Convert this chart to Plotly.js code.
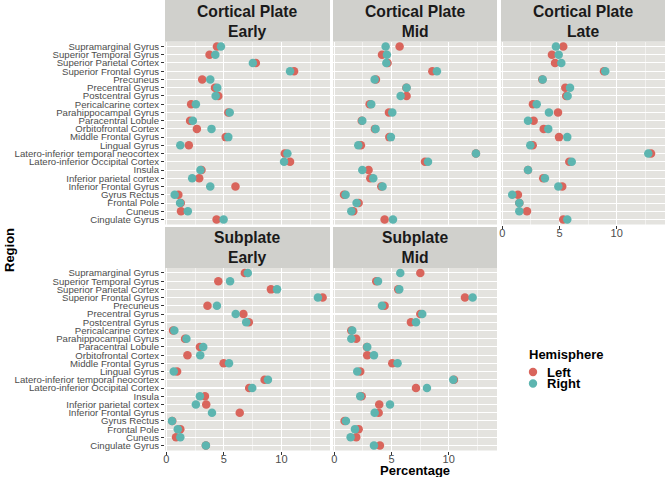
<!DOCTYPE html>
<html>
<head>
<meta charset="utf-8">
<script src="https://cdn.plot.ly/plotly-3.0.1.min.js"></script>
<style>
  body { margin: 0; background: white; }
  #chart { width: 666px; height: 477px; }
</style>
</head>
<body>
<div id="chart"></div>
<script>
// Regions, listed top to bottom as in the chart
var regions = ["Supramarginal Gyrus", "Superior Temporal Gyrus", "Superior Parietal Cortex",
  "Superior Frontal Gyrus", "Precuneus", "Precentral Gyrus", "Postcentral Gyrus",
  "Pericalcarine cortex", "Parahippocampal Gyrus", "Paracentral Lobule", "Orbitofrontal Cortex",
  "Middle Frontal Gyrus", "Lingual Gyrus", "Latero-inferior temporal neocortex",
  "Latero-inferior Occipital Cortex", "Insula", "Inferior parietal cortex", "Inferior Frontal Gyrus",
  "Gyrus Rectus", "Frontal Pole", "Cuneus", "Cingulate Gyrus"];

// Percentages per panel (Left / Right hemisphere)
var cpEarlyLeft  = [4.40, 3.76, 7.78, 11.10, 3.12, 4.23, 4.52, 2.16, 5.39, 2.07, 2.66, 5.16, 1.96, 10.29, 10.75, 3.06, 2.86, 6.01, 1.05, 1.26, 1.28, 4.37];
var cpEarlyRight = [4.75, 4.26, 7.52, 10.75, 3.82, 4.43, 4.29, 2.57, 5.51, 2.31, 3.93, 5.39, 1.22, 10.52, 10.23, 2.97, 2.25, 3.82, 0.73, 1.20, 1.87, 4.98];

var cpMidLeft  = [5.71, 4.17, 4.66, 8.57, 3.64, 6.30, 6.32, 3.09, 4.78, 2.40, 3.55, 4.81, 2.33, 12.38, 7.93, 3.00, 3.15, 4.11, 0.85, 2.13, 1.66, 4.40];
var cpMidRight = [4.49, 4.60, 4.55, 8.97, 3.53, 6.32, 5.80, 3.23, 5.07, 2.45, 3.61, 4.95, 2.10, 12.38, 8.19, 2.45, 3.41, 4.22, 0.99, 1.95, 1.49, 5.13];

var cpLateLeft  = [5.33, 4.34, 4.61, 8.89, 3.50, 5.51, 5.59, 2.68, 4.87, 2.74, 3.62, 4.96, 2.66, 13.00, 5.86, 2.25, 3.58, 5.24, 1.37, 1.49, 2.16, 5.33];
var cpLateRight = [4.69, 4.93, 5.16, 9.00, 3.53, 5.92, 5.71, 3.01, 4.08, 2.25, 4.02, 5.68, 2.45, 12.76, 6.07, 2.25, 3.73, 4.90, 0.87, 1.49, 1.49, 5.68];

var spEarlyLeft  = [6.82, 4.52, 9.09, 13.58, 3.58, 6.70, 7.17, 0.59, 1.63, 2.92, 1.84, 4.98, 0.94, 8.54, 7.20, 3.36, 3.47, 6.38, 0.52, 1.22, 0.85, 3.44];
var spEarlyRight = [7.08, 5.54, 9.62, 13.17, 4.40, 6.03, 6.94, 0.70, 1.75, 3.21, 2.95, 5.45, 0.65, 8.83, 7.47, 2.92, 2.57, 3.97, 0.50, 1.00, 1.22, 3.44];

var spMidLeft  = [7.52, 3.67, 5.59, 11.42, 4.40, 7.52, 6.70, 1.49, 1.92, 2.85, 2.88, 5.07, 2.27, 10.46, 7.14, 2.39, 3.93, 3.88, 0.90, 2.13, 1.92, 3.99];
var spMidRight = [5.77, 3.82, 5.68, 12.09, 4.17, 7.69, 7.14, 1.57, 1.49, 2.88, 3.47, 5.53, 2.01, 10.40, 8.10, 2.27, 4.87, 3.53, 1.02, 1.81, 1.43, 3.47];

var panelNames = [["Cortical Plate", "Early"], ["Cortical Plate", "Mid"], ["Cortical Plate", "Late"],
  ["Subplate", "Early"], ["Subplate", "Mid"]];
var panelLeft  = [cpEarlyLeft, cpMidLeft, cpLateLeft, spEarlyLeft, spMidLeft];
var panelRight = [cpEarlyRight, cpMidRight, cpLateRight, spEarlyRight, spMidRight];

var leftColor = "rgb(217,101,92)";
var rightColor = "rgb(93,181,176)";

// Panel geometry in pixels (666 x 477 page)
var W = 666, H = 477;
var colX = [[165, 330], [333, 497], [501, 665]];
var rowY = [[41.5, 224.5], [268, 450.5]];   // panel top/bottom
var stripY = [[0, 41.5], [227, 268]];
var stripTextY = [21.8, 247.5];
var panelPos = [[0, 0], [1, 0], [2, 0], [0, 1], [1, 1]];  // [col, row]

var data = [];
var layout = {
  width: W, height: H,
  margin: {l: 0, r: 0, t: 0, b: 0},
  paper_bgcolor: "white",
  plot_bgcolor: "#E4E3DF",
  font: {family: "Liberation Sans, Arial, sans-serif", color: "#4D4D4D", size: 11},
  showlegend: false,
  shapes: [],
  annotations: []
};

panelPos.forEach(function(pos, i) {
  var n = i + 1;
  var xa = n === 1 ? "x" : "x" + n;
  var ya = n === 1 ? "y" : "y" + n;
  var col = pos[0], row = pos[1];
  var showXLabels = (row === 1) || (col === 2);

  data.push({
    x: panelLeft[i], y: regions, xaxis: xa, yaxis: ya,
    type: "scatter", mode: "markers", name: "Left",
    marker: {color: leftColor, size: 8.5}
  });
  data.push({
    x: panelRight[i], y: regions, xaxis: xa, yaxis: ya,
    type: "scatter", mode: "markers", name: "Right",
    marker: {color: rightColor, size: 8.5}
  });

  layout["xaxis" + (n === 1 ? "" : n)] = {
    domain: [colX[col][0] / W, colX[col][1] / W],
    anchor: ya,
    range: [-0.11, 14.22],
    tickvals: [0, 5, 10],
    showticklabels: showXLabels,
    ticks: showXLabels ? "outside" : "",
    ticklen: 3, tickcolor: "#333333",
    ticklabelstandoff: -5,
    tickfont: {size: 11, color: "#4D4D4D"},
    showgrid: true, gridcolor: "white", gridwidth: 1.1,
    minor: {tickvals: [2.5, 7.5, 12.5], showgrid: true, gridcolor: "white", gridwidth: 0.5},
    zeroline: false, showline: false, fixedrange: true
  };
  layout["yaxis" + (n === 1 ? "" : n)] = {
    domain: [1 - rowY[row][1] / H, 1 - rowY[row][0] / H],
    anchor: xa,
    type: "category",
    categoryorder: "array", categoryarray: regions,
    range: [regions.length - 0.4, -0.6],
    tickmode: "linear", tick0: 0, dtick: 1,
    showticklabels: col === 0,
    ticks: col === 0 ? "outside" : "",
    ticklen: 3, tickcolor: "#333333",
    tickfont: {size: 9.6, color: "#4D4D4D"},
    showgrid: true, gridcolor: "white", gridwidth: 1.1,
    zeroline: false, showline: false, fixedrange: true
  };

  // facet strip
  layout.shapes.push({
    type: "rect", xref: "paper", yref: "paper", layer: "below",
    x0: colX[col][0] / W, x1: colX[col][1] / W,
    y0: 1 - stripY[row][1] / H, y1: 1 - stripY[row][0] / H,
    fillcolor: "#D0D0CC", line: {width: 0}
  });
  layout.annotations.push({
    xref: "paper", yref: "paper",
    x: (colX[col][0] + colX[col][1]) / 2 / W,
    y: 1 - stripTextY[row] / H,
    text: "<b>" + panelNames[i][0] + "<br>" + panelNames[i][1] + "</b>",
    showarrow: false, xanchor: "center", yanchor: "middle",
    font: {size: 15.7, color: "#1A1A1A"}
  });
});

// legend (ggplot style, drawn by hand)
var legendNames = ["Left", "Right"];
var legendColors = [leftColor, rightColor];
layout.annotations.push({
  xref: "paper", yref: "paper", x: 527 / W, y: 1 - 354 / H,
  text: "<b>Hemisphere</b>", showarrow: false, xanchor: "left", yanchor: "middle",
  font: {size: 13, color: "black"}
});
legendNames.forEach(function(name, k) {
  var cy = 372 + k * 11.5;
  layout.shapes.push({
    type: "circle", xref: "paper", yref: "paper",
    x0: (533 - 4.2) / W, x1: (533 + 4.2) / W,
    y0: 1 - (cy + 4.2) / H, y1: 1 - (cy - 4.2) / H,
    fillcolor: legendColors[k], line: {width: 0}
  });
  layout.annotations.push({
    xref: "paper", yref: "paper", x: 545 / W, y: 1 - cy / H,
    text: "<b>" + name + "</b>", showarrow: false, xanchor: "left", yanchor: "middle",
    font: {size: 13, color: "black"}
  });
});

// axis titles
layout.annotations.push({
  xref: "paper", yref: "paper", x: 415 / W, y: 1 - 470 / H,
  text: "<b>Percentage</b>", showarrow: false, xanchor: "center", yanchor: "middle",
  font: {size: 13, color: "black"}
});
layout.annotations.push({
  xref: "paper", yref: "paper", x: 9 / W, y: 1 - 250 / H,
  text: "<b>Region</b>", showarrow: false, textangle: -90, xanchor: "center", yanchor: "middle",
  font: {size: 13, color: "black"}
});

Plotly.newPlot("chart", data, layout, {displayModeBar: false, staticPlot: true});
</script>
</body>
</html>
